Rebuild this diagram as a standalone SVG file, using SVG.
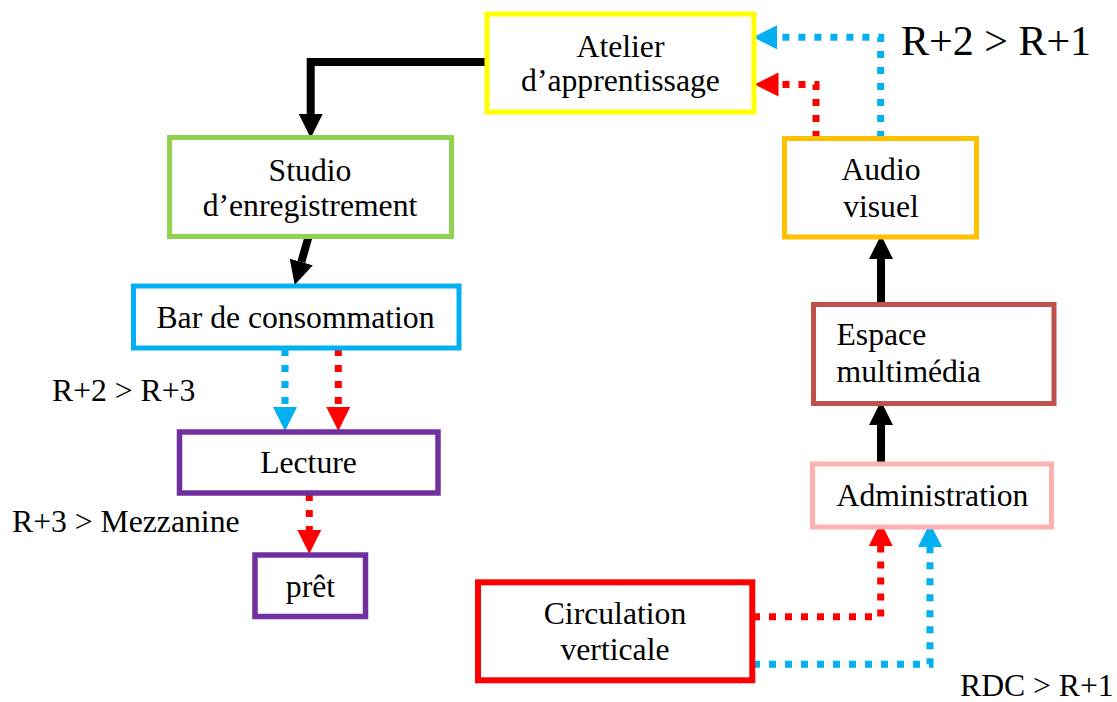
<svg xmlns="http://www.w3.org/2000/svg" width="1117" height="702" viewBox="0 0 1117 702">
  <style>
    .box { fill: #ffffff; stroke-width: 5; }
    .lbl { font-family: "Liberation Serif", "Times New Roman", serif; font-size: 31.7px; fill: #000000; }
    .mid { text-anchor: middle; }
    .solid { fill: none; stroke: #000000; stroke-width: 8; }
    .dot { fill: none; stroke-width: 7; stroke-dasharray: 7 9; }
    .blue { stroke: #00B0F0; }
    .red { stroke: #FF0000; }
  </style>
  <defs>
    <marker id="headBlack" markerUnits="userSpaceOnUse" viewBox="0 0 24 24" refX="0" refY="12" markerWidth="24" markerHeight="24" orient="auto">
      <path d="M0,0 L24,12 L0,24 Z" fill="#000000"/>
    </marker>
    <marker id="headBlue" markerUnits="userSpaceOnUse" viewBox="0 0 24 24" refX="0" refY="12" markerWidth="24" markerHeight="24" orient="auto">
      <path d="M0,0 L24,12 L0,24 Z" fill="#00B0F0"/>
    </marker>
    <marker id="headRed" markerUnits="userSpaceOnUse" viewBox="0 0 24 24" refX="0" refY="12" markerWidth="24" markerHeight="24" orient="auto">
      <path d="M0,0 L24,12 L0,24 Z" fill="#FF0000"/>
    </marker>
  </defs>

  <rect width="1117" height="702" fill="#ffffff"/>

  <!-- connectors -->
  <g id="connectors">
    <path class="solid" d="M487,62 H310.7 V114" marker-end="url(#headBlack)"/>
    <path class="solid" d="M308.5,237 L301.3,262" marker-end="url(#headBlack)"/>
    <path class="dot blue" d="M285,349 V407" marker-end="url(#headBlue)"/>
    <path class="dot red" d="M338.3,349 V407" marker-end="url(#headRed)"/>
    <path class="dot red" d="M309.3,494 V530" marker-end="url(#headRed)"/>
    <path class="dot red" d="M753,616.7 H880.7 V546" marker-end="url(#headRed)"/>
    <path class="dot blue" d="M753,664.3 H930 V547" marker-end="url(#headBlue)"/>
    <path class="solid" d="M881,464 V425" marker-end="url(#headBlack)"/>
    <path class="solid" d="M881,304 V259" marker-end="url(#headBlack)"/>
    <path class="dot red" d="M816,138 V84.5 H778.5" marker-end="url(#headRed)"/>
    <path class="dot blue" d="M880.7,138 V37.3 H777" marker-end="url(#headBlue)"/>
  </g>

  <!-- floor labels -->
  <g id="labels">
    <text class="lbl" x="901" y="55" style="font-size:42px">R+2 &gt; R+1</text>
    <text class="lbl" x="52" y="401">R+2 &gt; R+3</text>
    <text class="lbl" x="12" y="532">R+3 &gt; Mezzanine</text>
    <text class="lbl" x="960" y="696">RDC &gt; R+1</text>
  </g>

  <g id="atelier">
    <rect class="box" x="487" y="14" width="267" height="98" stroke="#FFFF00"/>
    <text class="lbl mid" x="620.5" y="57">Atelier</text>
    <text class="lbl mid" x="620.5" y="91">d’apprentissage</text>
  </g>

  <g id="studio">
    <rect class="box" x="169.5" y="137.5" width="282" height="99" stroke="#92D050"/>
    <text class="lbl mid" x="310" y="181">Studio</text>
    <text class="lbl mid" x="310" y="216">d’enregistrement</text>
  </g>

  <g id="bar">
    <rect class="box" x="133.5" y="286" width="325.5" height="62" stroke="#00B0F0"/>
    <text class="lbl mid" x="295.5" y="328">Bar de consommation</text>
  </g>

  <g id="lecture">
    <rect class="box" x="179.5" y="432" width="258.5" height="61" stroke="#7030A0" style="stroke-width:5.5"/>
    <text class="lbl mid" x="308.5" y="473">Lecture</text>
  </g>

  <g id="pret">
    <rect class="box" x="255" y="555" width="110.5" height="61.5" stroke="#7030A0" style="stroke-width:5.5"/>
    <text class="lbl mid" x="310.5" y="597">prêt</text>
  </g>

  <g id="audiovisuel">
    <rect class="box" x="784.5" y="138.5" width="192" height="98.5" stroke="#FFC000"/>
    <text class="lbl mid" x="881" y="180">Audio</text>
    <text class="lbl mid" x="881" y="217">visuel</text>
  </g>

  <g id="multimedia">
    <rect class="box" x="813.5" y="304.5" width="240.5" height="99" stroke="#C0504D"/>
    <text class="lbl" x="836.5" y="345">Espace</text>
    <text class="lbl" x="836.5" y="382">multimédia</text>
  </g>

  <g id="administration">
    <rect class="box" x="812.5" y="464" width="239" height="63" stroke="#FFB0B0"/>
    <text class="lbl mid" x="932.5" y="506">Administration</text>
  </g>

  <g id="circulation">
    <rect class="box" x="478" y="582.3" width="274.3" height="98" stroke="#FF0000" style="stroke-width:6"/>
    <text class="lbl mid" x="615" y="624">Circulation</text>
    <text class="lbl mid" x="615" y="660">verticale</text>
  </g>
</svg>
